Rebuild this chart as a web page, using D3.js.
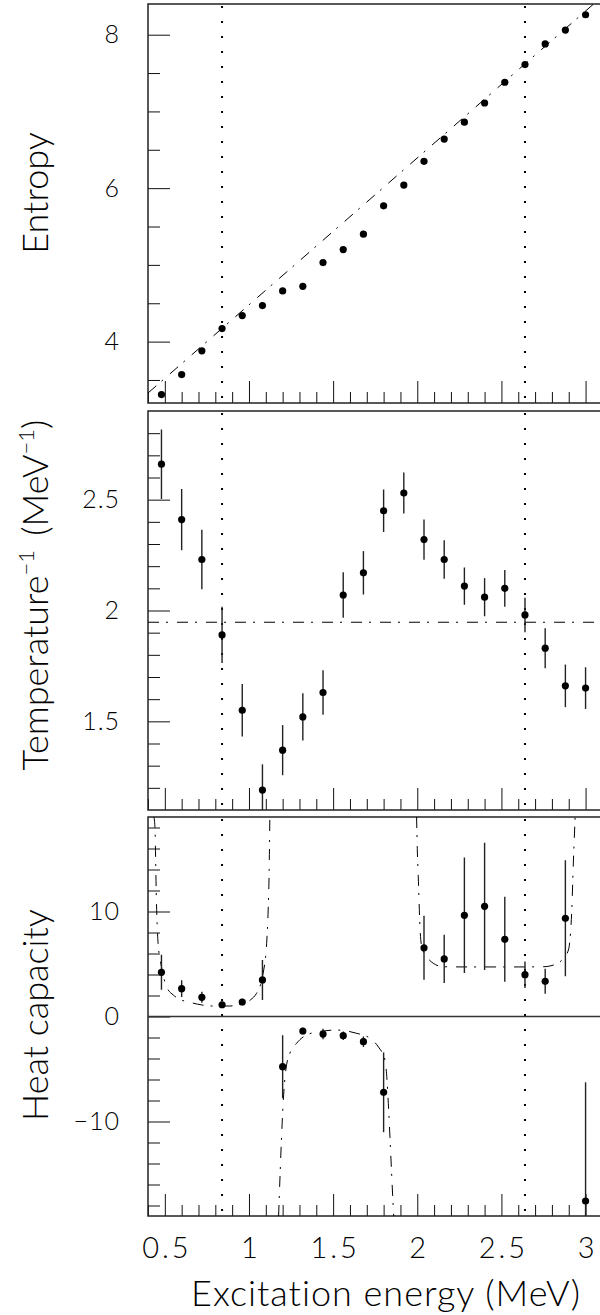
<!DOCTYPE html>
<html>
<head>
<meta charset="utf-8">
<script src="https://cdn.jsdelivr.net/npm/d3@7"></script>
<style>
  html, body { margin: 0; padding: 0; background: #fff; }
  svg text { font-family: "Lato", "Open Sans", sans-serif; font-weight: 300; fill: #000; }
</style>
</head>
<body>
<svg id="chart" width="600" height="1315"></svg>
<script>
// Excitation energy bins (MeV)
const energy = [0.48, 0.60, 0.72, 0.84, 0.96, 1.08, 1.20, 1.32, 1.44, 1.56, 1.68,
                1.80, 1.92, 2.04, 2.16, 2.28, 2.40, 2.52, 2.64, 2.76, 2.88, 3.00];

// Entropy per bin
const entropy = [3.31, 3.57, 3.88, 4.17, 4.34, 4.47, 4.66, 4.72, 5.03, 5.20, 5.40,
                 5.77, 6.04, 6.35, 6.64, 6.86, 7.11, 7.38, 7.61, 7.88, 8.06, 8.26];

// Inverse temperature (MeV^-1) with errors
const invTemp = [2.66, 2.41, 2.23, 1.89, 1.55, 1.19, 1.37, 1.52, 1.63, 2.07, 2.17,
                 2.45, 2.53, 2.32, 2.23, 2.11, 2.06, 2.10, 1.98, 1.83, 1.66, 1.65];
const invTempErr = [0.157, 0.138, 0.134, 0.127, 0.118, 0.116, 0.113, 0.107, 0.100, 0.103, 0.098,
                    0.096, 0.092, 0.091, 0.087, 0.084, 0.086, 0.083, 0.078, 0.090, 0.096, 0.094];

// Heat capacity with errors (null = outside the plotted range)
const heatCap = [4.21, 2.65, 1.83, 1.12, 1.38, 3.48, -4.78, -1.38, -1.67, -1.83, -2.40,
                 -7.22, null, 6.55, 5.48, 9.64, 10.49, 7.35, 3.98, 3.35, 9.35, -17.57];
const heatCapErr = [1.67, 0.80, 0.52, 0.30, 0.30, 1.90, 3.00, 0.30, 0.50, 0.40, 0.50,
                    3.80, null, 3.05, 2.30, 5.50, 6.06, 4.05, 1.27, 1.19, 5.52, 11.30];

// Linear entropy reference: end points over the energy range
const entropyFitE = [0.40, 3.10];
const entropyFitS = [3.33, 8.50];

// Constant inverse temperature reference
const invTempRef = 1.947;

// Heat capacity model curves (three branches)
const capModelA_E = [0.435, 0.441, 0.450, 0.460, 0.480, 0.510, 0.550, 0.589, 0.659, 0.720, 0.785,
                     0.886, 0.966, 1.010, 1.045, 1.070, 1.084, 1.105, 1.114, 1.120, 1.124];
const capModelA_C = [19.0, 18.1, 11.0, 6.97, 4.74, 2.84, 2.05, 1.64, 1.31, 1.10, 1.00,
                     1.00, 1.26, 1.60, 2.21, 3.10, 4.11, 6.97, 10.14, 14.0, 19.0];
const capModelB_E = [1.176, 1.185, 1.194, 1.203, 1.219, 1.243, 1.283, 1.342, 1.441, 1.521,
                     1.580, 1.640, 1.719, 1.768, 1.808, 1.820, 1.828, 1.842, 1.857, 1.860];
const capModelB_C = [-19.0, -15.0, -11.29, -8.27, -5.10, -3.50, -2.55, -1.76, -1.38, -1.29,
                     -1.38, -1.60, -2.08, -2.88, -4.14, -6.00, -8.27, -13.0, -18.1, -19.0];
const capModelC_E = [1.996, 2.000, 2.006, 2.016, 2.026, 2.056, 2.095, 2.155, 2.300, 2.450,
                     2.600, 2.749, 2.809, 2.868, 2.898, 2.918, 2.928, 2.938];
const capModelC_C = [19.0, 16.0, 13.3, 8.55, 6.65, 5.70, 5.07, 4.74, 4.72, 4.72,
                     4.72, 4.74, 4.90, 5.54, 6.33, 10.14, 14.9, 19.0];

// Energies marked with vertical dotted lines
const markerE = [0.84, 2.64];

// Tick values
const xMajor = [0.5, 1, 1.5, 2, 2.5, 3];
const xMinor = [0.4, 0.6, 0.7, 0.8, 0.9, 1.1, 1.2, 1.3, 1.4, 1.6, 1.7, 1.8, 1.9,
                2.1, 2.2, 2.3, 2.4, 2.6, 2.7, 2.8, 2.9];
const sMajor = [4, 6, 8];
const sMinor = [3.5, 4.5, 5, 5.5, 6.5, 7, 7.5];
const tMajor = [1.5, 2, 2.5];
const tMinor = [1.2, 1.3, 1.4, 1.6, 1.7, 1.8, 1.9, 2.1, 2.2, 2.3, 2.4, 2.6, 2.7, 2.8];
const cMajor = [-10, 0, 10];
const cMinor = [-18, -16, -14, -12, -8, -6, -4, -2, 2, 4, 6, 8, 12, 14, 16, 18];

const svg = d3.select("#chart");
const xLeft = 148, xRight = 602.4;
const x = d3.scaleLinear().domain([0.4, 3.1]).range([xLeft, xRight]);

const panels = [
  { id: "s", domain: [3.2, 8.4], range: [403, 4], major: sMajor, minor: sMinor, fmt: d3.format("d") },
  { id: "t", domain: [1.1, 2.9], range: [810, 411], major: tMajor, minor: tMinor, fmt: d => String(d) },
  { id: "c", domain: [-19, 19], range: [1216, 817], major: cMajor, minor: cMinor,
    fmt: d => d < 0 ? "\u2212" + Math.abs(d) : String(d) }
];
panels.forEach(p => { p.y = d3.scaleLinear().domain(p.domain).range(p.range); });

const defs = svg.append("defs");
panels.forEach(p => {
  defs.append("clipPath").attr("id", "clip-" + p.id)
    .append("rect").attr("x", xLeft).attr("y", p.range[1])
    .attr("width", xRight - xLeft).attr("height", p.range[0] - p.range[1]);
});

const dashDot = "11,7,2,9";

function styleAxis(g) {
  g.select(".domain").remove();
  g.selectAll(".tick line").attr("stroke", "#111").attr("stroke-width", 1);
}

panels.forEach((p, i) => {
  const g = svg.append("g");
  const top = p.range[1], bottom = p.range[0];
  const isLast = i === panels.length - 1;

  // x ticks on the bottom edge, pointing inward
  g.append("g").attr("transform", `translate(0,${bottom})`)
    .call(d3.axisBottom(x).tickValues(xMinor).tickSize(-11).tickFormat(""))
    .call(styleAxis);
  const xa = g.append("g").attr("transform", `translate(0,${bottom})`)
    .call(d3.axisBottom(x).tickValues(xMajor).tickSize(-22).tickPadding(21)
      .tickFormat(isLast ? d => String(d) : ""))
    .call(styleAxis);
  xa.selectAll("text").attr("font-size", 29).attr("letter-spacing", 3)
    .attr("dx", 1.5).attr("font-family", null);

  // y ticks on the left edge, pointing inward
  g.append("g").attr("transform", `translate(${xLeft},0)`)
    .call(d3.axisLeft(p.y).tickValues(p.minor).tickSize(-12).tickFormat(""))
    .call(styleAxis);
  const ya = g.append("g").attr("transform", `translate(${xLeft},0)`)
    .call(d3.axisLeft(p.y).tickValues(p.major).tickSize(-22).tickPadding(28).tickFormat(p.fmt))
    .call(styleAxis);
  ya.selectAll("text").attr("font-size", 25).attr("letter-spacing", 1).attr("font-family", null);

  // frame
  g.append("rect").attr("x", xLeft).attr("y", top)
    .attr("width", xRight - xLeft).attr("height", bottom - top)
    .attr("fill", "none").attr("stroke", "#222").attr("stroke-width", 1.5);

  // dotted energy markers
  const plot = g.append("g").attr("clip-path", `url(#clip-${p.id})`);
  plot.selectAll("line.marker").data(markerE).join("line")
    .attr("class", "marker")
    .attr("x1", d => x(d)).attr("x2", d => x(d))
    .attr("y1", top + 2).attr("y2", bottom)
    .attr("stroke", "#000").attr("stroke-width", 2)
    .attr("stroke-dasharray", "2,13");
  p.plot = plot;
});

// ---- Entropy panel ----
{
  const p = panels[0];
  const line = d3.line().x(d => x(d[0])).y(d => p.y(d[1]));
  p.plot.append("path")
    .attr("d", line(d3.zip(entropyFitE, entropyFitS)))
    .attr("fill", "none").attr("stroke", "#000").attr("stroke-width", 1)
    .attr("stroke-dasharray", dashDot);
  p.plot.selectAll("circle").data(d3.zip(energy, entropy)).join("circle")
    .attr("cx", d => x(d[0])).attr("cy", d => p.y(d[1])).attr("r", 3.6).attr("fill", "#000");
}

// ---- Inverse temperature panel ----
{
  const p = panels[1];
  p.plot.append("line")
    .attr("x1", x(0.4)).attr("x2", x(3.1))
    .attr("y1", p.y(invTempRef)).attr("y2", p.y(invTempRef))
    .attr("stroke", "#000").attr("stroke-width", 1).attr("stroke-dasharray", dashDot);
  const pts = energy.map((e, i) => ({ e, v: invTemp[i], err: invTempErr[i] }));
  p.plot.selectAll("line.err").data(pts).join("line").attr("class", "err")
    .attr("x1", d => x(d.e)).attr("x2", d => x(d.e))
    .attr("y1", d => p.y(d.v - d.err)).attr("y2", d => p.y(d.v + d.err))
    .attr("stroke", "#222").attr("stroke-width", 1.4);
  p.plot.selectAll("circle").data(pts).join("circle")
    .attr("cx", d => x(d.e)).attr("cy", d => p.y(d.v)).attr("r", 3.6).attr("fill", "#000");
}

// ---- Heat capacity panel ----
{
  const p = panels[2];
  p.plot.append("line")
    .attr("x1", x(0.4)).attr("x2", x(3.1))
    .attr("y1", p.y(0)).attr("y2", p.y(0))
    .attr("stroke", "#333").attr("stroke-width", 1.5);
  const line = d3.line().curve(d3.curveMonotoneX).x(d => x(d[0])).y(d => p.y(d[1]));
  [[capModelA_E, capModelA_C], [capModelB_E, capModelB_C], [capModelC_E, capModelC_C]]
    .forEach(([es, cs]) => {
      p.plot.append("path")
        .attr("d", line(d3.zip(es, cs)))
        .attr("fill", "none").attr("stroke", "#000").attr("stroke-width", 1)
        .attr("stroke-dasharray", dashDot);
    });
  const pts = energy.map((e, i) => ({ e, v: heatCap[i], err: heatCapErr[i] }))
    .filter(d => d.v !== null);
  p.plot.selectAll("line.err").data(pts).join("line").attr("class", "err")
    .attr("x1", d => x(d.e)).attr("x2", d => x(d.e))
    .attr("y1", d => p.y(d.v - d.err)).attr("y2", d => p.y(d.v + d.err))
    .attr("stroke", "#222").attr("stroke-width", 1.4);
  p.plot.selectAll("circle").data(pts).join("circle")
    .attr("cx", d => x(d.e)).attr("cy", d => p.y(d.v)).attr("r", 3.6).attr("fill", "#000");
}

// ---- Axis titles ----
svg.append("text")
  .attr("x", 386).attr("y", 1306)
  .attr("text-anchor", "middle").attr("font-size", 36)
  .attr("letter-spacing", 1)
  .text("Excitation energy (MeV)");

function yTitle(cx, cy, build) {
  const t = svg.append("text")
    .attr("transform", `translate(${cx},${cy}) rotate(-90)`)
    .attr("text-anchor", "middle").attr("font-size", 36);
  build(t);
}
yTitle(48, 193, t => t.text("Entropy"));
yTitle(48, 595, t => {
  t.append("tspan").text("Temperature");
  t.append("tspan").attr("font-size", 22).attr("dy", -14).text("\u22121");
  t.append("tspan").attr("dy", 14).text("\u2009 (MeV");
  t.append("tspan").attr("font-size", 22).attr("dy", -14).text("\u22121");
  t.append("tspan").attr("dy", 14).text(")");
});
yTitle(48, 1015, t => t.text("Heat capacity"));
</script>
</body>
</html>
